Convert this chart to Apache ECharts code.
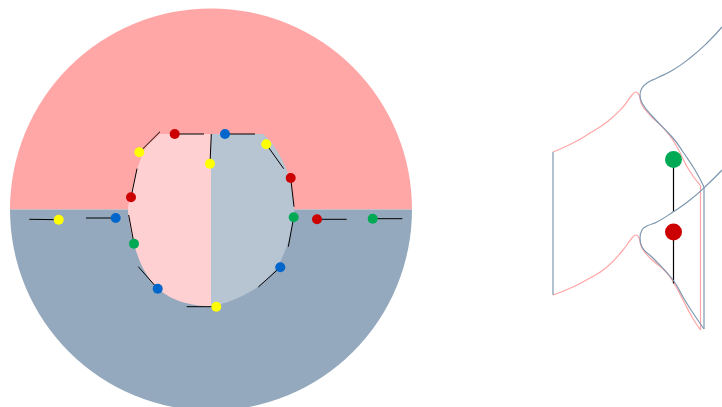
<!DOCTYPE html>
<html>
<head>
<meta charset="utf-8">
<style>html,body{margin:0;padding:0;background:#fff}#c{width:722px;height:407px}</style>
<script src="https://cdn.jsdelivr.net/npm/echarts@6/dist/echarts.min.js"></script>
</head>
<body>
<div id="c"></div>
<script>
const halves = [1, 1];
const innerLeft = [[-51,75.5],[-59.3,67.8],[-66,61.5],[-70,51.2],[-73.3,42.8],[-77.7,26.2],[-82.7,4.5],[-83.3,-0.5],[-81,-18.8],[-76,-38.8],[-69.3,-57.2],[-57.7,-75.5],[-42.7,-87.2],[-26,-93.8],[-9.3,-96.5],[0,-97.2]];
const innerRight = [[52,75.5],[60.3,67.8],[68.7,54.5],[75.3,41.2],[79.7,27.8],[82,11.2],[83.7,-3.8],[83,-5.5],[80.3,-22.2],[75.3,-38.8],[67,-57.2],[50.3,-75.5],[33.7,-85.5],[17,-92.8],[0,-96.9]];
const innerTop = [0,75.5];
const yellowDots = [[-152.3,-10.2],[-71.7,57.2],[-1,45.8],[55.3,65.2],[5.3,-97.2]];
const redDots = [[-80,12.2],[-36.3,75.5],[79.7,31.5],[106,-9.8]];
const blueDots = [[-95.3,-8.5],[-53.3,-79.2],[14,75.5],[69.3,-57.8]];
const greenDots = [[-77,-34.2],[82.7,-7.8],[161.7,-9.2]];
const yellowEnds = [[-181.7,-9.8],[-51,77.8],[0.3,75.5],[72.7,40.8],[-24.3,-97.2]];
const redEnds = [[-74,40.8],[-7,75.5],[83,2.8],[135.7,-9.8]];
const blueEnds = [[-125,-8.5],[-72.7,-57.2],[44,75.5],[47.3,-77.5]];
const greenEnds = [[-82.3,-5.5],[77.3,-37.2],[191.3,-9.2]];

const pinkTop = [[0,72],[20,81],[37,91],[54,102],[70,117],[79,129],[83,132],[86,129],[89,119],[97,109],[114,92],[124,77],[136,54],[147,39]];
const pinkBottom = [[0,-71],[20,-63],[37,-54],[54,-43],[70,-26],[79,-14],[83,-11],[86,-14],[89,-24],[97,-34],[114,-49],[122,-61],[130,-76],[139,-93],[147.5,-106]];
const pinkEdge = [[147.5,39],[147.5,-106]];
const blueTop = [[169,197],[154,181],[137,166],[120,154],[104,146],[94,141],[89,136],[87,129],[89,121],[100,107],[120,86],[130,72],[142,54],[151,37]];
const blueBottom = [[169,54],[154,39],[137,24],[120,12],[104,2],[94,-2],[89,-6],[87,-14],[89,-23],[100,-34],[120,-56],[130,-73],[140,-89],[151,-105]];
const blueEdgeRight = [[151,37],[151,-105]];
const blueEdgeLeft = [[0,72],[0,-71]];
const rightGreenDot = [[120.5,64.5]];
const rightRedDot = [[120.5,-8]];
const rightGreenStem = [[120.5,64.5],[120.5,12]];
const rightRedStem = [[120.5,-8],[120.5,-59.5]];

const PINK='#FFA6A6', SLATE='#94A9BD', LPINK='#FFD0D2', LSLATE='#B7C5D3', LINEBLUE='#7E98B1', BLACK='#000';
const YEL='#FFFF00', RED='#CC0000', BLU='#0066CC', GRN='#00AA55';

function rounded(pts){
  let p=pts;
  for(let k=0;k<3;k++){
    const q=[p[0]];
    for(let i=0;i<p.length-1;i++){
      const a=p[i],b=p[i+1];
      if(i>0) q.push([a[0]*0.75+b[0]*0.25,a[1]*0.75+b[1]*0.25]);
      if(i<p.length-2) q.push([a[0]*0.25+b[0]*0.75,a[1]*0.25+b[1]*0.75]);
    }
    q.push(p[p.length-1]);
    p=q;
  }
  return p;
}
function polygon(pts, color){
  return {type:'custom', xAxisIndex:0, yAxisIndex:0, coordinateSystem:'cartesian2d', silent:true, z:3, clip:false,
    data:[0],
    renderItem:(p,api)=>({type:'polygon', shape:{points:[innerTop,...rounded(pts)].map(d=>api.coord(d))}, style:{fill:color}})};
}
function stems(dots, ends){
  return {type:'custom', xAxisIndex:0, yAxisIndex:0, silent:true, z:4, clip:false,
    data:dots.map((d,i)=>[d[0],d[1],ends[i][0],ends[i][1]]),
    renderItem:(p,api)=>{
      const a=api.coord([api.value(0),api.value(1)]), b=api.coord([api.value(2),api.value(3)]);
      return {type:'line', shape:{x1:a[0],y1:a[1],x2:b[0],y2:b[1]}, style:{stroke:BLACK,lineWidth:1}};
    }};
}
function dots(data,color,ax,size){
  return {type:'scatter', xAxisIndex:ax, yAxisIndex:ax, data, symbolSize:size, silent:true, z:5, clip:false,
    itemStyle:{color, opacity:1}};
}
function curve(data,color,smooth,z){
  return {type:'line', xAxisIndex:1, yAxisIndex:1, data, smooth, showSymbol:false, symbol:'none', silent:true, z:z||2,
    lineStyle:{color,width:1.2}};
}
const hidden={show:false};
const chart=echarts.init(document.getElementById('c'),null,{renderer:'canvas'});
chart.setOption({
  animation:false, backgroundColor:'#fff',
  tooltip:{show:false}, legend:{show:false},
  grid:[
    {left:10,top:8.5,width:402,height:398.5,show:false},
    {left:553,top:0,width:169,height:407,show:false}
  ],
  xAxis:[
    {type:'value',gridIndex:0,min:-201,max:201,...hidden},
    {type:'value',gridIndex:1,min:0,max:169,...hidden}
  ],
  yAxis:[
    {type:'value',gridIndex:0,min:-197.5,max:201,...hidden},
    {type:'value',gridIndex:1,min:-183,max:224,...hidden}
  ],
  series:[
    {type:'pie',center:[211,209.5],radius:[0,201],startAngle:180,clockwise:true,silent:true,z:1,
     label:{show:false},labelLine:{show:false},
     data:[{value:halves[0],itemStyle:{color:PINK}},{value:halves[1],itemStyle:{color:SLATE}}]},
    polygon(innerLeft,LPINK),
    polygon(innerRight,LSLATE),
    stems(yellowDots,yellowEnds),stems(redDots,redEnds),stems(blueDots,blueEnds),stems(greenDots,greenEnds),
    dots(yellowDots,YEL,0,10),dots(redDots,RED,0,10),dots(blueDots,BLU,0,10),dots(greenDots,GRN,0,10),
    curve(pinkTop,PINK,0.5),curve(pinkBottom,PINK,0.5),curve(pinkEdge,PINK,false),
    curve(rightGreenStem,BLACK,false,3),curve(rightRedStem,BLACK,false,3),
    curve(blueTop,LINEBLUE,0.5,4),curve(blueBottom,LINEBLUE,0.5,4),curve(blueEdgeRight,LINEBLUE,false,4),curve(blueEdgeLeft,LINEBLUE,false,4),
    dots(rightGreenDot,GRN,1,17),dots(rightRedDot,RED,1,17)
  ]
});
</script>
</body>
</html>
